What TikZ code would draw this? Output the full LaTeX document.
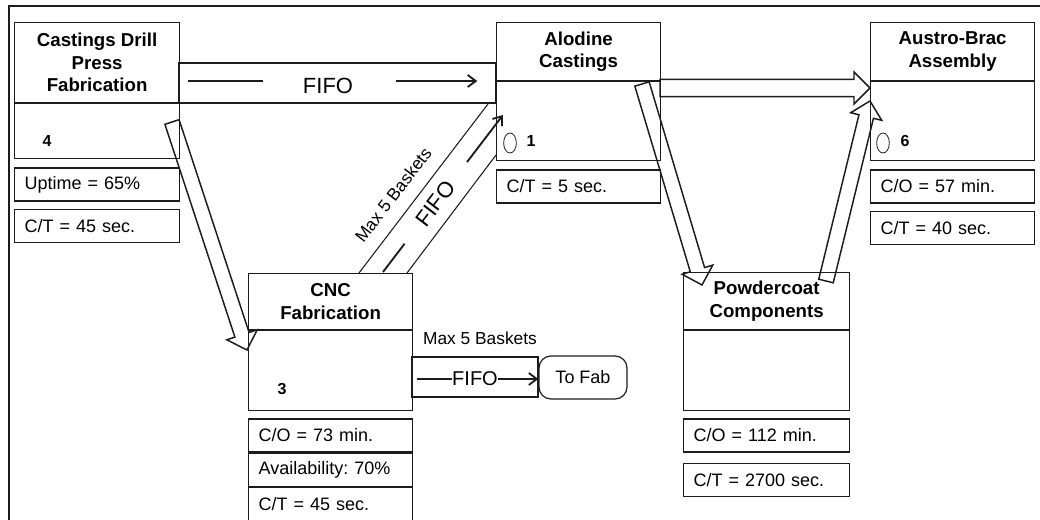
\documentclass[tikz,border=0pt]{standalone}
\usepackage{fontspec}
\setmainfont{Liberation Sans}
\usepackage{tikz}
\usetikzlibrary{arrows.meta, positioning, calc, shapes.geometric}
\definecolor{ink}{RGB}{28,28,28}
\frenchspacing

\newcommand{\hdrfont}{\fontsize{14pt}{17pt}\selectfont\bfseries}
\newcommand{\datafont}{\fontsize{13.5pt}{16pt}\selectfont}
\newcommand{\numfont}{\fontsize{12pt}{14pt}\selectfont\bfseries}
\newcommand{\bigfifofont}{\fontsize{16.5pt}{19pt}\selectfont}
\newcommand{\smallfifofont}{\fontsize{15pt}{18pt}\selectfont}
\newcommand{\basketfont}{\fontsize{13pt}{15pt}\selectfont}

\newcommand{\hollowpush}[3][5.6pt]{%
  \coordinate (hp-base) at ($(#3)!12pt!(#2)$);
  \draw[push] ($(#2)!#1!90:(#3)$) -- ($(hp-base)!#1!90:(#3)$)
    -- ($(hp-base)!12pt!90:(#3)$) -- (#3) -- ($(hp-base)!12pt!-90:(#3)$)
    -- ($(hp-base)!#1!-90:(#3)$) -- ($(#2)!#1!-90:(#3)$) -- cycle;
}

\tikzset{
  station/.style={draw=ink, line width=0.9pt, minimum width=123pt, inner sep=2pt, align=center, font=\hdrfont},
  data/.style={draw=ink, line width=0.9pt, text width=108pt, inner xsep=7.5pt, inner ysep=0pt, minimum height=24.75pt, align=left, font=\datafont},
  lane/.style={draw=ink, line width=0.8pt, inner sep=0pt},
  fifo/.style={inner sep=0pt, font=\bigfifofont},
  fifoarrow/.style={draw=ink, line width=1.4pt, -{Straight Barb[length=6pt,width=9pt]}},
  push/.style={draw=ink, line width=1.1pt, line join=miter},
  num/.style={inner sep=0pt, font=\numfont},
  opmark/.style={draw=ink, ellipse, line width=0.6pt, minimum width=9.5pt, minimum height=15pt, inner sep=0pt}
}

\begin{document}
\begin{tikzpicture}[x=0.75pt, y=-0.75pt]
  \useasboundingbox (0,0) rectangle (1040,520);
  \draw[ink, line width=1.6pt] (1040,6) -- (9,6) -- (9,520);

  \node[station, minimum width=123.75pt, minimum height=60pt, anchor=north west] (castHead) at (14,22) {Castings Drill\\Press\\Fabrication};
  \node[station, minimum width=123.75pt, minimum height=41.25pt, below=0pt of castHead] (castBody) {};
  \node[num] (castCount) at (47,141) {4};
  \node[data, text width=108.75pt, below=6pt of castBody] (castUptime) {Uptime = 65\%};
  \node[data, text width=108.75pt, below=5.25pt of castUptime] (castCT) {C/T = 45 sec.};

  \node[station, minimum height=43.5pt, anchor=north west] (alodHead) at (496,22) {Alodine\\Castings};
  \node[station, minimum height=59.25pt, below=0pt of alodHead] (alodBody) {};
  \node[opmark] (alodOp) at (510,143) {};
  \node[num] (alodCount) at (531,141) {1};
  \node[data, below=6pt of alodBody] (alodCT) {C/T = 5 sec.};

  \node[station, minimum height=43.5pt, anchor=north west] (austHead) at (870,22) {Austro-Brac\\Assembly};
  \node[station, minimum height=59.25pt, below=0pt of austHead] (austBody) {};
  \node[opmark] (austOp) at (883,143) {};
  \node[num] (austCount) at (905,141) {6};
  \node[data, below=6pt of austBody] (austCO) {C/O = 57 min.};
  \node[data, below=5.25pt of austCO] (austCT) {C/T = 40 sec.};

  \node[station, minimum height=42pt, anchor=north west] (cncHead) at (248,273) {CNC\\Fabrication};
  \node[station, minimum height=60pt, below=0pt of cncHead] (cncBody) {};
  \node[num] (cncCount) at (282,389) {3};
  \node[data, below=5.25pt of cncBody] (cncCO) {C/O = 73 min.};
  \node[data, below=0pt of cncCO] (cncAvail) {Availability: 70\%};
  \node[data, below=0pt of cncAvail] (cncCT) {C/T = 45 sec.};

  \node[station, minimum width=124.5pt, minimum height=42.75pt, anchor=north west] (powdHead) at (683,272) {Powdercoat\\Components};
  \node[station, minimum width=124.5pt, minimum height=60pt, below=0pt of powdHead] (powdBody) {};
  \node[data, text width=109.5pt, below=5.25pt of powdBody] (powdCO) {C/O = 112 min.};
  \node[data, text width=109.5pt, below=7.5pt of powdCO] (powdCT) {C/T = 2700 sec.};

  \node[lane, minimum width=237.75pt, minimum height=30pt] (topLane) at (337.5,83) {};
  \node[fifo] (topFifo) at (328,86) {FIFO};
  \draw[ink, line width=1.4pt] (topFifo.west) ++(-40,-5) -- ++(-75,0);
  \draw[fifoarrow] (topFifo.east) ++(43,-5) -- ++(81,0);

  \coordinate (diagL1) at (359,273);
  \coordinate (diagL2) at (488,104);
  \coordinate (diagR1) at (407,273);
  \coordinate (diagR2) at (496,155);
  \coordinate (diagM1) at (383,272);
  \coordinate (diagM2) at (503,115);
  \draw[lane] (diagL1) -- node[sloped, above=10pt, pos=0.39, inner sep=0pt, font=\basketfont] (diagMax) {Max 5 Baskets} (diagL2);
  \draw[lane] (diagR1) -- (diagR2);
  \path (diagM1) -- node[fifo, sloped, pos=0.435] (diagFifo) {FIFO} (diagM2);
  \draw[ink, line width=1.4pt] (diagM1) -- ($(diagM1)!0.18!(diagM2)$);
  \draw[fifoarrow] ($(diagM1)!0.70!(diagM2)$) -- (diagM2);

  \node[lane, minimum width=94.5pt, minimum height=30pt] (botLane) at (475,377) {};
  \node[inner sep=0pt, font=\basketfont] (botMax) at (480,338) {Max 5 Baskets};
  \node[fifo, font=\smallfifofont] (botFifo) at (475,379) {FIFO};
  \node[draw=ink, line width=0.9pt, rounded corners=9pt, minimum width=66pt, minimum height=32.25pt, font=\datafont] (toFab) at (583,377.5) {To Fab};
  \draw[ink, line width=1.4pt] (botFifo.west) -- ++(-35,0);
  \draw[fifoarrow] (botFifo.east) -- (botFifo.east -| toFab.west);

  \coordinate (pushA1) at (172,122);
  \coordinate (pushA2) at (247,350);
  \coordinate (pushB1) at (642,84);
  \coordinate (pushB2) at (702,285);
  \coordinate (pushC1) at (660,88);
  \coordinate (pushC2) at (pushC1 -| austHead.west);
  \coordinate (pushD1) at (826,281);
  \coordinate (pushD2) at (870,101);
  \hollowpush{pushA1}{pushA2}
  \hollowpush{pushB1}{pushB2}
  \hollowpush[6.4pt]{pushC1}{pushC2}
  \hollowpush{pushD1}{pushD2}
\end{tikzpicture}
\end{document}
